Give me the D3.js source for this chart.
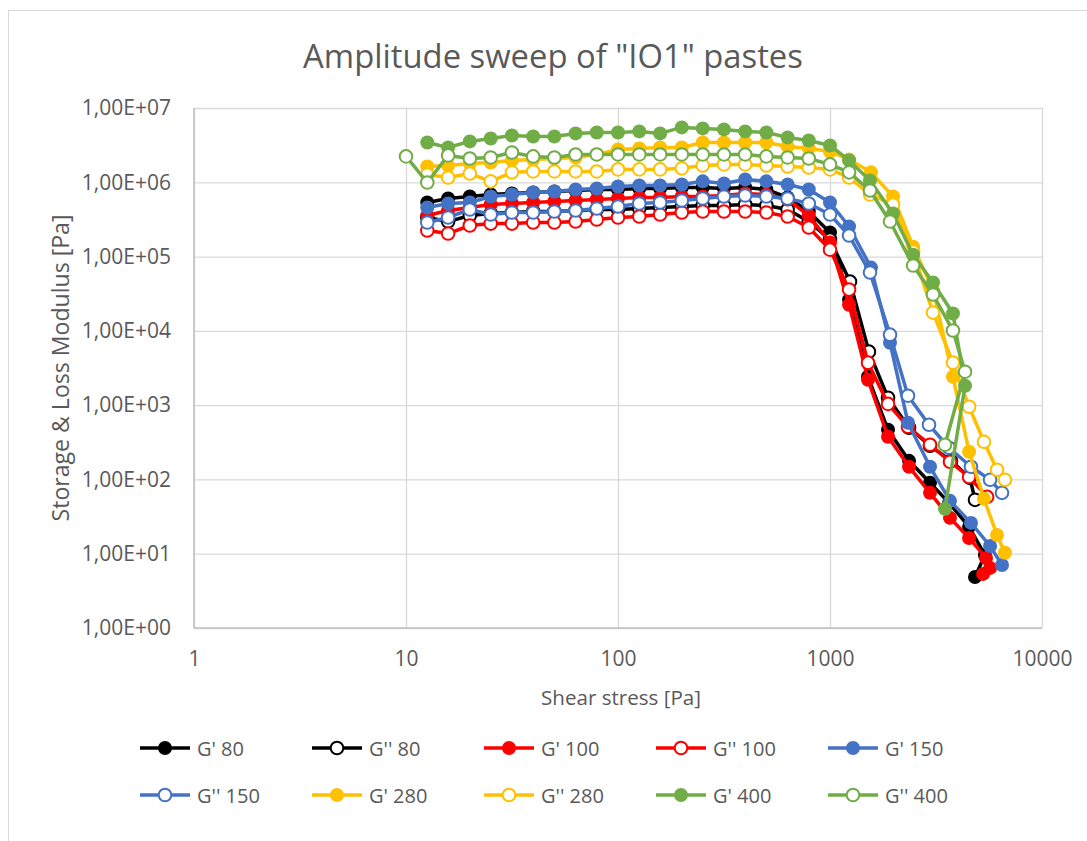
<!DOCTYPE html>
<html>
<head>
<meta charset="utf-8">
<script src="https://cdn.jsdelivr.net/npm/d3@7"></script>
<style>
	body { margin: 0; background: #fff; }
	text { font-family: "Open Sans", "Noto Sans", sans-serif; fill: #595959; }
</style>
</head>
<body>
<script>
// applied shear stress of the plateau part (Pa), shared by all series
const stress = [12.6, 15.8, 20, 25.1, 31.6, 39.8, 50.1, 63.1, 79.4, 100, 126, 158, 200, 251, 316, 398, 501, 631, 794, 1000];

// moduli on the plateau (Pa), one value per stress above
const gp80 = [5.34e5, 6.05e5, 6.44e5, 6.85e5, 7.06e5, 7.29e5, 7.51e5, 7.75e5, 8.0e5, 8.0e5, 8.25e5, 8.25e5, 8.51e5, 8.51e5, 8.25e5, 8.51e5, 8.0e5, 6.24e5, 4.04e5, 2.11e5];
const gpp80 = [3.36e5, 2.96e5, 3.57e5, 3.8e5, 3.92e5, 4.04e5, 4.04e5, 4.17e5, 4.3e5, 4.3e5, 4.44e5, 4.57e5, 4.72e5, 4.87e5, 4.87e5, 5.02e5, 4.87e5, 4.3e5, 2.96e5, 1.7e5];
const gp100 = [3.57e5, 4.17e5, 4.57e5, 5.02e5, 5.18e5, 5.34e5, 5.51e5, 5.69e5, 5.87e5, 6.05e5, 6.24e5, 6.24e5, 6.44e5, 6.44e5, 6.64e5, 7.06e5, 6.85e5, 5.87e5, 3.57e5, 1.55e5];
const gpp100 = [2.24e5, 2.04e5, 2.62e5, 2.78e5, 2.78e5, 2.87e5, 2.87e5, 2.96e5, 3.15e5, 3.36e5, 3.46e5, 3.68e5, 3.92e5, 4.04e5, 4.04e5, 4.04e5, 3.92e5, 3.46e5, 2.46e5, 1.24e5];
const gp150 = [4.57e5, 5.18e5, 5.34e5, 6.44e5, 6.85e5, 7.29e5, 7.51e5, 8.0e5, 8.25e5, 8.77e5, 9.05e5, 9.05e5, 9.33e5, 1.03e6, 9.63e5, 1.09e6, 1.03e6, 9.33e5, 8.0e5, 5.34e5];
const gpp150 = [2.87e5, 3.36e5, 4.3e5, 3.68e5, 3.92e5, 3.92e5, 4.04e5, 4.17e5, 4.44e5, 4.72e5, 5.18e5, 5.34e5, 5.69e5, 6.05e5, 6.44e5, 6.64e5, 6.44e5, 6.05e5, 5.18e5, 3.68e5];
const gp280 = [1.63e6, 1.68e6, 1.79e6, 1.85e6, 1.97e6, 2.03e6, 2.09e6, 2.16e6, 2.37e6, 2.77e6, 2.86e6, 2.94e6, 2.94e6, 3.44e6, 3.44e6, 3.44e6, 3.44e6, 3.04e6, 2.86e6, 2.6e6];
const gpp280 = [1.27e6, 1.16e6, 1.31e6, 1.03e6, 1.36e6, 1.4e6, 1.4e6, 1.4e6, 1.4e6, 1.49e6, 1.49e6, 1.49e6, 1.54e6, 1.68e6, 1.74e6, 1.74e6, 1.68e6, 1.63e6, 1.58e6, 1.49e6];
const gp400 = [3.44e6, 2.94e6, 3.55e6, 3.89e6, 4.27e6, 4.14e6, 4.14e6, 4.55e6, 4.69e6, 4.69e6, 4.84e6, 4.55e6, 5.48e6, 5.31e6, 5.15e6, 4.84e6, 4.69e6, 4.02e6, 3.66e6, 3.13e6];
const gpp400 = [9.94e5, 2.3e6, 2.09e6, 2.16e6, 2.52e6, 2.23e6, 2.16e6, 2.37e6, 2.37e6, 2.37e6, 2.37e6, 2.37e6, 2.37e6, 2.37e6, 2.37e6, 2.37e6, 2.23e6, 2.16e6, 2.09e6, 1.74e6];

// yielding part: [measured stress, modulus]
const gp80Tail = [[1230, 2.63e4], [1511, 2.41e3], [1878, 466], [2360, 178], [2963, 90], [3641, 48.4], [4529, 23], [5380, 9.6], [4831, 4.87]];
const gpp80Tail = [[1243, 4.6e4], [1526, 5.25e3], [1878, 1.26e3], [2360, 496], [2963, 284], [3722, 178], [4571, 105], [4831, 53.1]];
const gp100Tail = [[1230, 2.25e4], [1511, 2.2e3], [1878, 375], [2360, 148], [2963, 66], [3681, 30.4], [4529, 16.3], [5445, 8.78], [5689, 6.44], [5272, 5.35]];
const gpp100Tail = [[1230, 3.59e4], [1511, 3.73e3], [1878, 1.04e3], [2333, 512], [2963, 293], [3681, 173], [4529, 108], [5508, 58.2]];
const gp150Tail = [[1230, 2.54e5], [1561, 7.11e4], [1919, 6.93e3], [2333, 579], [2963, 148], [3681, 51.5], [4624, 26], [5689, 12.7], [6476, 7.06]];
const gpp150Tail = [[1230, 1.92e5], [1544, 6.09e4], [1919, 8.89e3], [2333, 1.34e3], [2931, 544], [3641, 267], [4624, 148], [5689, 98.8], [6476, 66]];
const gp280Tail = [[1230, 2.03e6], [1561, 1.36e6], [1983, 6.44e5], [2466, 1.36e5], [3061, 3.59e4], [3802, 2.41e3], [4529, 236], [5323, 54.8], [6136, 17.9], [6687, 10.3]];
const gpp280Tail = [[1230, 1.16e6], [1544, 6.85e5], [1983, 5.02e5], [2466, 1.17e5], [3061, 1.76e4], [3802, 3.73e3], [4529, 951], [5323, 321], [6136, 135], [6687, 98.8]];
const gp400Tail = [[1230, 1.97e6], [1544, 1.06e6], [1983, 3.8e5], [2466, 1.06e5], [3061, 4.47e4], [3802, 1.71e4], [4335, 1.82e3], [3486, 40.2]];
const gpp400Tail = [[1230, 1.36e6], [1544, 7.75e5], [1919, 2.96e5], [2466, 7.57e4], [3061, 3.08e4], [3802, 1.01e4], [4335, 2.82e3], [3486, 293]];
const gpp400Head = [[10, 2.23e6]];

const xTicks = [1, 10, 100, 1000, 10000];
const yTicks = [1, 10, 100, 1e3, 1e4, 1e5, 1e6, 1e7];

const series = [
	{ name: "G' 80", color: "#000000", open: false, vals: gp80, tail: gp80Tail },
	{ name: "G'' 80", color: "#000000", open: true, vals: gpp80, tail: gpp80Tail },
	{ name: "G' 100", color: "#FF0000", open: false, vals: gp100, tail: gp100Tail },
	{ name: "G'' 100", color: "#FF0000", open: true, vals: gpp100, tail: gpp100Tail },
	{ name: "G' 150", color: "#4472C4", open: false, vals: gp150, tail: gp150Tail },
	{ name: "G'' 150", color: "#4472C4", open: true, vals: gpp150, tail: gpp150Tail },
	{ name: "G' 280", color: "#FFC000", open: false, vals: gp280, tail: gp280Tail },
	{ name: "G'' 280", color: "#FFC000", open: true, vals: gpp280, tail: gpp280Tail },
	{ name: "G' 400", color: "#70AD47", open: false, vals: gp400, tail: gp400Tail },
	{ name: "G'' 400", color: "#70AD47", open: true, vals: gpp400, tail: gpp400Tail, head: gpp400Head }
];
series.forEach(s => {
	s.points = (s.head || []).concat(stress.map((st, i) => [st, s.vals[i]]), s.tail);
});

const width = 1087, height = 841;
const plot = { left: 194, right: 1042, top: 108, bottom: 628 };

const svg = d3.select("body").append("svg")
	.attr("width", width)
	.attr("height", height);

// chart area border (only left and top edges fall inside the picture)
svg.append("rect")
	.attr("x", 8.5).attr("y", 10.5)
	.attr("width", 1100).attr("height", 900)
	.attr("fill", "none")
	.attr("stroke", "#D9D9D9");

const x = d3.scaleLog().domain([1, 10000]).range([plot.left, plot.right]);
const y = d3.scaleLog().domain([1, 1e7]).range([plot.bottom, plot.top]);

const fmtY = d => "1,00E+" + String(Math.round(Math.log10(d))).padStart(2, "0");

const yAxis = svg.append("g")
	.attr("transform", "translate(" + plot.left + ",0)")
	.call(d3.axisLeft(y).tickValues(yTicks).tickFormat(fmtY)
		.tickSize(-(plot.right - plot.left)).tickPadding(23));

const xAxis = svg.append("g")
	.attr("transform", "translate(0," + plot.bottom + ")")
	.call(d3.axisBottom(x).tickValues(xTicks).tickFormat(d3.format("d"))
		.tickSize(-(plot.bottom - plot.top)).tickPadding(23));

[xAxis, yAxis].forEach(g => {
	g.select(".domain").remove();
	g.selectAll(".tick line").attr("stroke", "#D9D9D9").attr("stroke-width", 1.3);
	g.selectAll(".tick text").attr("font-size", 21).attr("fill", "#595959")
		.style("font-family", "'Open Sans', sans-serif");
});

// axis lines
svg.append("line")
	.attr("x1", plot.left).attr("x2", plot.left)
	.attr("y1", plot.top).attr("y2", plot.bottom)
	.attr("stroke", "#BFBFBF").attr("stroke-width", 1.5);
svg.append("line")
	.attr("x1", plot.left).attr("x2", plot.right)
	.attr("y1", plot.bottom).attr("y2", plot.bottom)
	.attr("stroke", "#BFBFBF").attr("stroke-width", 1.5);

// squeeze a label to the width it has in the original
function fit(sel, w) {
	const len = sel.node().getComputedTextLength();
	sel.attr("font-size", parseFloat(sel.attr("font-size")) * w / len);
}

const title = svg.append("text")
	.attr("x", 553).attr("y", 55)
	.attr("text-anchor", "middle")
	.attr("dominant-baseline", "central")
	.attr("font-size", 30)
	.text('Amplitude sweep of "IO1" pastes');
fit(title, 500);

const xTitle = svg.append("text")
	.attr("x", 621).attr("y", 697)
	.attr("text-anchor", "middle")
	.attr("dominant-baseline", "central")
	.attr("font-size", 22)
	.text("Shear stress [Pa]");
fit(xTitle, 160);

const yTitle = svg.append("text")
	.attr("transform", "translate(60,368) rotate(-90)")
	.attr("text-anchor", "middle")
	.attr("dominant-baseline", "central")
	.attr("font-size", 22)
	.text("Storage & Loss Modulus [Pa]");
fit(yTitle, 307);

const line = d3.line()
	.x(d => x(d[0]))
	.y(d => y(d[1]));

const layer = svg.selectAll(".series")
	.data(series)
	.enter().append("g")
	.attr("class", "series");

layer.append("path")
	.attr("d", d => line(d.points))
	.attr("fill", "none")
	.attr("stroke", d => d.color)
	.attr("stroke-width", 3.5)
	.attr("stroke-linejoin", "round");

layer.each(function(s) {
	d3.select(this).selectAll("circle")
		.data(s.points)
		.enter().append("circle")
		.attr("cx", d => x(d[0]))
		.attr("cy", d => y(d[1]))
		.attr("r", s.open ? 6.3 : 7)
		.attr("fill", s.open ? "#fff" : s.color)
		.attr("stroke", s.color)
		.attr("stroke-width", s.open ? 2 : 0);
});

// legend: two rows of five
const legend = svg.selectAll(".legend")
	.data(series)
	.enter().append("g")
	.attr("class", "legend")
	.attr("transform", (d, i) => "translate(" + (140 + (i % 5) * 172) + "," + (748 + Math.floor(i / 5) * 47) + ")");

legend.append("line")
	.attr("x1", 0).attr("x2", 50)
	.attr("stroke", d => d.color)
	.attr("stroke-width", 3.5);

legend.append("circle")
	.attr("cx", 25)
	.attr("r", d => d.open ? 6.3 : 7)
	.attr("fill", d => d.open ? "#fff" : d.color)
	.attr("stroke", d => d.color)
	.attr("stroke-width", d => d.open ? 2 : 0);

legend.append("text")
	.attr("x", 57)
	.attr("dominant-baseline", "central")
	.attr("font-size", 20)
	.text(d => d.name);
</script>
</body>
</html>
